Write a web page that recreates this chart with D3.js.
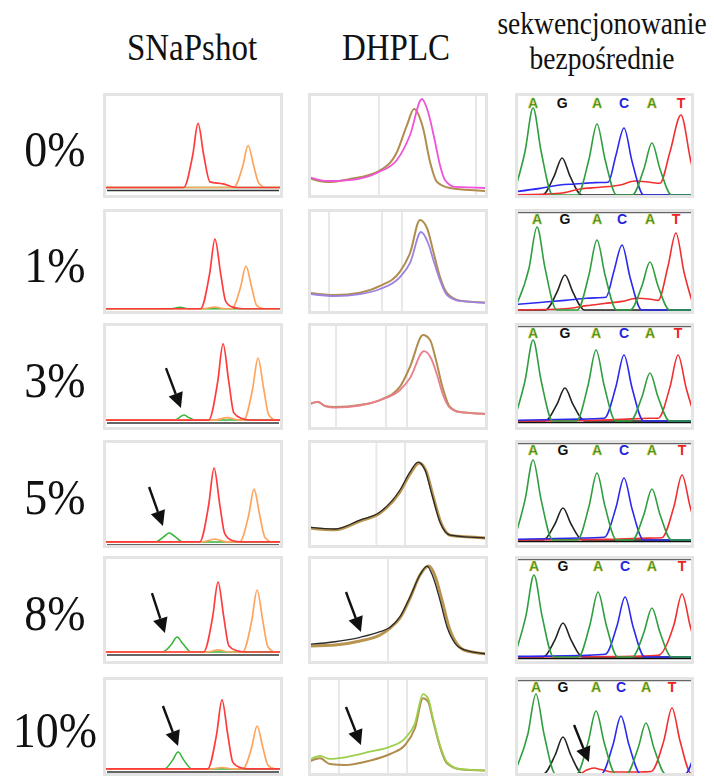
<!DOCTYPE html>
<html>
<head>
<meta charset="utf-8">
<script src="https://cdn.jsdelivr.net/npm/d3@7"></script>
<style>
  html, body { margin: 0; padding: 0; background: #fff; }
  svg { display: block; }
</style>
</head>
<body>
<div id="chart"></div>
<script>
// Detection of a low-fraction mutation: SNaPshot vs DHPLC vs direct sequencing
const rowLabels = ["0%", "1%", "3%", "5%", "8%", "10%"];
const methods = [["SNaPshot"], ["DHPLC"], ["sekwencjonowanie", "bezpośrednie"]];
const baseCalls = ["A", "G", "A", "C", "A", "T"];

// ---- SNaPshot traces, [time, signal] in 0..100 units ----
const snapBase = [10, 5, 9.3, 5.6, 11.1, 7.1];
const snapRed = [
  [[0,10],[44.8,10],[49.8,40.5],[52.8,71],[56,40.5],[59.4,15.4],[66.7,13.5],[74,10],[100,10]],
  [[0,5],[54.2,5],[59.2,38],[62.2,71.4],[65.4,38],[68.2,12],[72,6.5],[78,5],[100,5]],
  [[0,9.3],[58.7,9.3],[63.7,44.9],[66.7,80.4],[69.9,44.9],[72.7,16],[76.7,11],[82,9.3],[100,9.3]],
  [[0,5.6],[53.7,5.6],[58.7,39.8],[61.7,74],[64.9,39.8],[67.7,13],[71.7,7],[77,5.6],[100,5.6]],
  [[0,11.1],[55.9,11.1],[60.9,43.5],[63.9,75.9],[67.1,43.5],[69.9,17],[73.9,12.5],[79,11.1],[100,11.1]],
  [[0,7.1],[58.1,7.1],[63.1,42],[66.1,76.8],[69.3,42],[72.1,14],[76.1,8.5],[81,7.1],[100,7.1]]
];
const snapOrange = [
  [[0,10],[72.6,10],[77.6,30],[80.6,50],[83.8,30],[86.6,14],[90.6,10],[100,10]],
  [[0,5],[55,5],[62,6.5],[68,5],[71.4,5],[76.4,25.4],[79.4,45.7],[82.6,25.4],[85.4,8],[89.4,5],[100,5]],
  [[0,9.3],[62,9.3],[68.9,11.5],[75,9.5],[78.1,9.3],[83.1,38.3],[86.1,67.3],[89.3,38.3],[92.1,14],[96.1,9.3],[100,9.3]],
  [[0,5.6],[55,5.6],[62,8.3],[69,5.6],[75.9,5.6],[80.9,30.1],[83.9,54.6],[87.1,30.1],[89.9,10],[93.9,5.6],[100,5.6]],
  [[0,11.1],[58,11.1],[64,13],[70,11.1],[77.6,11.1],[82.6,39.8],[85.6,68.5],[88.8,39.8],[91.6,16],[95.6,11.1],[100,11.1]],
  [[0,7.1],[60,7.1],[66,8.6],[72,7.1],[77.6,7.1],[82.6,28.8],[85.6,50.5],[88.8,28.8],[91.6,11],[95.6,7.1],[100,7.1]]
];
const snapGreen = [
  [[0,10],[100,10]],
  [[0,5],[38,5],[42.8,6.5],[47,5],[100,5]],
  [[0,9.3],[40,9.3],[42.5,11.8],[45,14],[47.8,11.5],[51,9.3],[100,9.3]],
  [[0,5.6],[29,5.6],[33.5,10],[36.7,13.9],[40,10.5],[44.4,5.6],[100,5.6]],
  [[0,11.1],[33,11.1],[38,18],[41.1,25],[44.5,18.5],[49,11.1],[100,11.1]],
  [[0,7.1],[34,7.1],[38.7,16],[41.7,24.2],[44.9,16],[49.4,7.1],[100,7.1]]
];

// ---- DHPLC elution profiles ----
const dhplcRef = [
  [[0.5,19],[10.6,15.2],[23.3,18.1],[39.4,25.7],[49.4,43.8],[55,69.5],[58.9,84.8],[63.9,66.7],[67.8,34.3],[71.7,15.2],[78.9,9.5],[99.5,6.7]],
  [[0.5,20.3],[15,18.1],[28.9,20.3],[40,26.7],[51.1,40.3],[56.7,58.1],[62.2,89.5],[66.1,81.9],[69.4,61],[73.3,35.5],[77.2,20],[84.4,12.7],[99.5,10.8]],
  [[0.5,24.3],[5.6,26.2],[9.4,22.4],[15,21.5],[28.9,23.4],[40,28],[51.1,40.5],[56.7,59.2],[63.9,88.8],[67.8,84.1],[71.1,65.4],[74.4,42.1],[78.9,21.5],[84.4,16.8],[99.5,15]],
  [[0.5,18.5],[15,16.8],[28.9,25],[40,32.4],[51.1,52],[56.7,68.5],[61.7,78.7],[65.6,71.3],[69.5,48],[73.9,23],[79.5,11.5],[99.5,9.3]],
  [[0.5,16.7],[15,17.6],[28.9,21.3],[40,26.9],[45.6,33.3],[51.1,42.6],[56.7,61.1],[62.2,82.4],[67.2,90.7],[70.6,81.5],[74.4,59.3],[78.3,34.3],[82.8,18.5],[88.3,12],[99.5,9.3]],
  [[0.5,14.4],[6.7,17.9],[12.2,12.1],[20.6,11.1],[34.4,15.5],[45.6,22.2],[53.9,31.3],[59.4,48.2],[63.9,78.5],[66.7,75.1],[69.4,56.6],[73.3,29.6],[77.2,12.8],[84.4,6.8],[99.5,5.4]]
];
const dhplcSample = [
  [[0.5,20],[10.6,16.2],[23.3,17.1],[39.4,24.8],[49.4,36.2],[56.7,60],[63.3,94.3],[66.7,81.9],[70.6,53.3],[73.3,31.4],[76.1,17.1],[81.7,10.5],[99.5,9.5]],
  [[0.5,19.3],[15,17.1],[28.9,19],[40,23.8],[51.1,35.2],[56.7,48.6],[62.8,78.1],[66.7,67.6],[70,49.5],[73.3,32.4],[77.2,18.1],[84.4,12.4],[99.5,10.5]],
  [[0.5,23.4],[5.6,26.6],[9.4,22.4],[15,21],[28.9,22.9],[40,28],[51.1,37.4],[56.7,48.6],[64.4,73.8],[68.3,67.3],[71.7,51.4],[75,32.7],[78.9,20.6],[84.4,16.8],[99.5,15]],
  [[0.5,19.4],[15,17.6],[28.9,25.9],[40,33.3],[51.1,53.7],[56.7,70.4],[61.1,79.6],[65,72.2],[68.9,49.1],[73.3,24.1],[78.9,12],[99.5,9.3]],
  [[0.5,18.2],[15,20.6],[28.9,24.7],[40,29.9],[45.6,34],[51.1,43.8],[56.7,62.3],[62.2,82.4],[66.1,90.7],[69.4,80.8],[73.3,59.3],[77.2,34.5],[81.7,19.2],[87.2,13],[99.5,9.3]],
  [[0.5,16.2],[6.7,20.2],[12.2,17.2],[20.6,18.9],[34.4,24.5],[45.6,29.6],[53.9,38.1],[59.4,53.2],[63.9,82.8],[66.7,78.5],[69.4,58.6],[73.3,31.3],[77.2,14.1],[84.4,7.1],[99.5,5.4]]
];
const dhplcGrid = [[39.4, 93.3], [11.7, 41.1, 52.2], [15.6, 43.3, 55], [38, 53.9], [44.4], [17.2, 44.4, 55]];

// ---- direct sequencing traces ----
const seqBase = [2.9, 3.8, 8.4, 7.4, 6.5, 2];
const seqCalls = [
  [10.1, 26.3, 45.8, 60.9, 76.5, 92.7],
  [12.3, 27.9, 45.8, 59.8, 75.4, 89.9],
  [10.1, 27.9, 45.3, 60.9, 75.4, 91.1],
  [10.1, 26.8, 45.8, 60.9, 76.5, 93.3],
  [10.6, 26.8, 46.4, 61.5, 76.5, 93.3],
  [11.7, 26.8, 45.3, 59.2, 73.2, 87.7]
];
const seqGreen = [
  [[0,8],[5.6,44.3],[10.1,85.7],[14.6,44.3],[21.1,2.9],[34.8,2.9],[41.3,36.7],[45.8,70.5],[50.3,36.7],[56.8,2.9],[65.5,2.9],[72,27.6],[76.5,52.4],[81,27.6],[87.5,2.9],[100,2.9]],
  [[0,6],[7.8,43.4],[12.3,82.9],[16.8,43.4],[23.3,3.8],[34.8,3.8],[41.3,37.2],[45.8,70.5],[50.3,37.2],[56.8,3.8],[64.4,3.8],[70.9,26.7],[75.4,49.5],[79.9,26.7],[86.4,3.8],[100,3.8]],
  [[0,12],[5.6,46],[10.1,84.1],[14.6,46],[21.1,8.4],[34.3,8.4],[40.8,41.6],[45.3,74.8],[49.8,41.6],[56.3,8.4],[64.4,8.4],[70.9,30.9],[75.4,53.3],[79.9,30.9],[86.4,8.4],[100,8.4]],
  [[0,10],[5.6,44.5],[10.1,81.5],[14.6,44.5],[21.1,7.4],[34.8,7.4],[41.3,38.4],[45.8,69.4],[50.3,38.4],[56.8,7.4],[65.5,7.4],[72,31],[76.5,54.6],[81,31],[87.5,7.4],[100,7.4]],
  [[0,9],[6.1,44.5],[10.6,82.4],[15.1,44.5],[21.6,6.5],[35.4,6.5],[41.9,36.6],[46.4,66.7],[50.9,36.6],[57.4,6.5],[65.5,6.5],[72,29.2],[76.5,51.9],[81,29.2],[87.5,6.5],[100,6.5]],
  [[0,5],[7.2,42.4],[11.7,82.8],[16.2,42.4],[22.7,2],[34.3,2],[40.8,33.9],[45.3,65.7],[49.8,33.9],[56.3,2],[62.2,2],[68.7,27.8],[73.2,53.5],[77.7,27.8],[84.2,2],[100,2]]
];
const seqBlack = [
  [[0,2.9],[15.3,2.9],[21.8,20.5],[26.3,38.1],[30.8,20.5],[37.3,2.9],[100,2.9]],
  [[0,3.8],[16.9,3.8],[23.4,20.5],[27.9,37.1],[32.4,20.5],[38.9,3.8],[100,3.8]],
  [[0,8.4],[16.9,8.4],[23.4,23.9],[27.9,39.3],[32.4,23.9],[38.9,8.4],[100,8.4]],
  [[0,7.4],[15.8,7.4],[22.3,22.2],[26.8,37],[31.3,22.2],[37.8,7.4],[100,7.4]],
  [[0,6.5],[15.8,6.5],[22.3,22.3],[26.8,38],[31.3,22.3],[37.8,6.5],[100,6.5]],
  [[0,6],[2,2],[15.8,2],[22.3,20.7],[26.8,39.4],[31.3,20.7],[37.8,2],[100,2]]
];
const seqBlue = [
  [[0,6],[14,9.2],[25.1,12.4],[33.5,13.3],[44.7,14.6],[52,15],[56.4,40.8],[60.9,66.7],[65.4,34.8],[71.9,2.9],[100,2.9]],
  [[0,9],[14,11],[28,13],[40,15],[50.8,16],[55.3,41],[59.8,65.7],[64.3,34.8],[70.8,3.8],[100,3.8]],
  [[0,9],[30,10],[49.9,11],[56.4,40.6],[60.9,70.1],[65.4,39.3],[71.9,8.4],[100,8.4]],
  [[0,8],[30,9],[49.9,10],[56.4,37.4],[60.9,64.8],[65.4,36.1],[71.9,7.4],[100,7.4]],
  [[0,7],[40,8],[50.5,9],[57,35.5],[61.5,62],[66,34.3],[72.5,6.5],[100,6.5]],
  [[0,2],[48.2,2],[54.7,31.3],[59.2,60.6],[63.7,31.3],[70.2,2],[95,2],[100,21]]
];
const seqRed = [
  [[0,2.9],[25.1,4.4],[36.3,8.6],[47.5,10.2],[58.7,12.4],[67,16.2],[75.4,15],[81,14],[86.6,44],[92.7,79],[98.7,31.7],[100,25]],
  [[0,3.8],[28,5],[40,8],[50,10],[60,12],[68,15],[76,14],[80,13],[85.4,45],[89.9,77.1],[94.4,40],[100,6]],
  [[0,8.4],[40,9],[60,10],[75,11],[80,11],[86.6,40.3],[91.1,70.1],[95.6,39.3],[100,15]],
  [[0,7.4],[50,8],[70,9],[82,9.5],[88.8,38.5],[93.3,67.6],[97.8,38.5],[100,25]],
  [[0,6.5],[60,7],[80,8],[88.8,36.4],[93.3,64.8],[97.8,35.6],[100,22]],
  [[0,2],[36,2],[40,6],[44.1,8.1],[48,6.5],[55,4],[70,4],[76,4.5],[83.2,36],[87.7,68.7],[92.2,35.4],[98.7,2],[100,2]]
];

// arrows: [column, row, tail [t, s], tip [t, s]]
const arrows = [
  [0, 2, [35, 57.9], [43.3, 20.6]],
  [0, 3, [25.6, 56.5], [33.3, 20.4]],
  [0, 4, [27.2, 65.7], [34.4, 28.7]],
  [0, 5, [33.3, 70.7], [41.7, 30.3]],
  [1, 4, [21.1, 66.7], [29.4, 29.6]],
  [1, 5, [21.1, 69.7], [29.4, 31.3]],
  [2, 5, [33, 51.5], [41.3, 14.1]]
];

// ---- layout & styles ----
const width = 714, height = 778;
const colEdges = [[103, 283], [308, 488], [515, 694]];
const rowTops = [93, 209, 323, 440, 556, 677];
const rowBottoms = [198, 314, 430, 548, 664, 776];
const serif = "'Liberation Serif', 'Times New Roman', serif";
const dhplcColors = ["#f052d8", "#9c82e2", "#e8808c", "#2a2a2a", "#2a2a2a", "#9ed04e"];
const letterColor = { A: "#1e8a2e", G: "#111", C: "#2424e0", T: "#ee2222" };

const svg = d3.select("#chart").append("svg")
  .attr("width", width).attr("height", height)
  .attr("viewBox", `0 0 ${width} ${height}`);
svg.append("rect").attr("width", width).attr("height", height).attr("fill", "#fff");

function scales(c, r) {
  return {
    x: d3.scaleLinear().domain([0, 100]).range(colEdges[c]),
    y: d3.scaleLinear().domain([0, 100]).range([rowBottoms[r], rowTops[r]])
  };
}

// serif text, slightly stretched vertically like the original figure
function label(x, y, size, txt) {
  svg.append("text")
    .attr("transform", `translate(${x},${y}) scale(1,1.12)`)
    .attr("text-anchor", "middle").attr("font-family", serif)
    .attr("font-size", size).attr("fill", "#111").text(txt);
}

// headers
const headerX = [192, 396, 602];
label(headerX[0], 60, 33, methods[0][0]);
label(headerX[1], 60, 33, methods[1][0]);
label(headerX[2], 34, 27.5, methods[2][0]);
label(headerX[2], 69, 27.5, methods[2][1]);

// row labels
rowLabels.forEach((lab, r) => {
  label(55, (rowTops[r] + rowBottoms[r]) / 2 + 20, 46, lab);
});

const defs = svg.append("defs");

function drawPanel(c, r) {
  const { x, y } = scales(c, r);
  const [x0, x1] = colEdges[c];
  const top = rowTops[r], bot = rowBottoms[r];
  const g = svg.append("g");
  g.append("rect").attr("x", x0 + 1.5).attr("y", top + 1.5)
    .attr("width", x1 - x0 - 3).attr("height", bot - top - 3)
    .attr("fill", "#fff").attr("stroke", "#e4e4e4").attr("stroke-width", 3);
  const id = `clip-${c}-${r}`;
  defs.append("clipPath").attr("id", id).append("rect")
    .attr("x", x0 + 3).attr("y", top + 3).attr("width", x1 - x0 - 6).attr("height", bot - top - 6);
  const inner = g.append("g").attr("clip-path", `url(#${id})`);
  const line = d3.line().x(d => x(d[0])).y(d => y(d[1])).curve(d3.curveMonotoneX);
  const trace = (data, color, w) => inner.append("path").datum(data)
    .attr("d", line).attr("fill", "none").attr("stroke", color)
    .attr("stroke-width", w).attr("stroke-linejoin", "round");
  return { x, y, inner, trace, x0, x1, top, bot };
}

for (let r = 0; r < rowLabels.length; r++) {
  // SNaPshot
  let p = drawPanel(0, r);
  p.inner.append("line").attr("x1", p.x0 + 4).attr("x2", p.x1 - 4)
    .attr("y1", p.y(snapBase[r]) + 3).attr("y2", p.y(snapBase[r]) + 3)
    .attr("stroke", "#333").attr("stroke-width", 1.4);
  p.trace(snapGreen[r], "#33b533", 1.5);
  p.trace(snapOrange[r], "#ffa45c", 1.7);
  p.trace(snapRed[r], "#ff3c3c", 1.7);

  // DHPLC
  p = drawPanel(1, r);
  p.inner.selectAll("line.grid").data(dhplcGrid[r]).join("line")
    .attr("class", "grid")
    .attr("x1", d => p.x(d)).attr("x2", d => p.x(d))
    .attr("y1", p.top).attr("y2", p.bot)
    .attr("stroke", "#e8e8e8").attr("stroke-width", 2);
  if (r === 3 || r === 4) {
    p.trace(dhplcRef[r], "#b8944e", 3);
    p.trace(dhplcSample[r], dhplcColors[r], 1.3);
  } else {
    p.trace(dhplcRef[r], "#b08d4e", 2);
    p.trace(dhplcSample[r], dhplcColors[r], 1.8);
  }

  // sequencing
  p = drawPanel(2, r);
  if (r > 0) {
    p.inner.append("line").attr("x1", p.x0).attr("x2", p.x1)
      .attr("y1", p.top + 3.5).attr("y2", p.top + 3.5)
      .attr("stroke", "#666").attr("stroke-width", 1.5);
  }
  p.inner.append("line").attr("x1", p.x0).attr("x2", p.x1)
    .attr("y1", p.y(seqBase[r]) + 1.5).attr("y2", p.y(seqBase[r]) + 1.5)
    .attr("stroke", "#111").attr("stroke-width", 1.6);
  p.trace(seqBlack[r], "#222", 1.6);
  p.trace(seqRed[r], "#f03030", 1.6);
  p.trace(seqBlue[r], "#2a2aee", 1.6);
  p.trace(seqGreen[r], "#2e9e3e", 1.6);
  p.inner.selectAll("text.call").data(seqCalls[r]).join("text")
    .attr("class", "call")
    .attr("x", d => p.x(d)).attr("y", p.top + 14.5)
    .attr("text-anchor", "middle")
    .attr("font-family", "'Liberation Sans', Arial, sans-serif")
    .attr("font-weight", "bold").attr("font-size", 14)
    .attr("fill", (d, i) => letterColor[baseCalls[i]])
    .attr("stroke", (d, i) => baseCalls[i] === "A" ? "#d8c840" : "none")
    .attr("stroke-width", 0.6)
    .text((d, i) => baseCalls[i]);
}

// arrows
arrows.forEach(([c, r, tail, tip]) => {
  const { x, y } = scales(c, r);
  const tx = x(tail[0]), ty = y(tail[1]), px = x(tip[0]), py = y(tip[1]);
  const len = Math.hypot(px - tx, py - ty);
  const dx = (px - tx) / len, dy = (py - ty) / len;
  const L = 15, W = 7.5;
  const bx = px - dx * L, by = py - dy * L;
  svg.append("line").attr("x1", tx).attr("y1", ty).attr("x2", bx).attr("y2", by)
    .attr("stroke", "#111").attr("stroke-width", 2.4);
  svg.append("path")
    .attr("d", `M${px},${py}L${bx - dy * W},${by + dx * W}L${bx + dy * W},${by - dx * W}Z`)
    .attr("fill", "#111");
});
</script>
</body>
</html>
